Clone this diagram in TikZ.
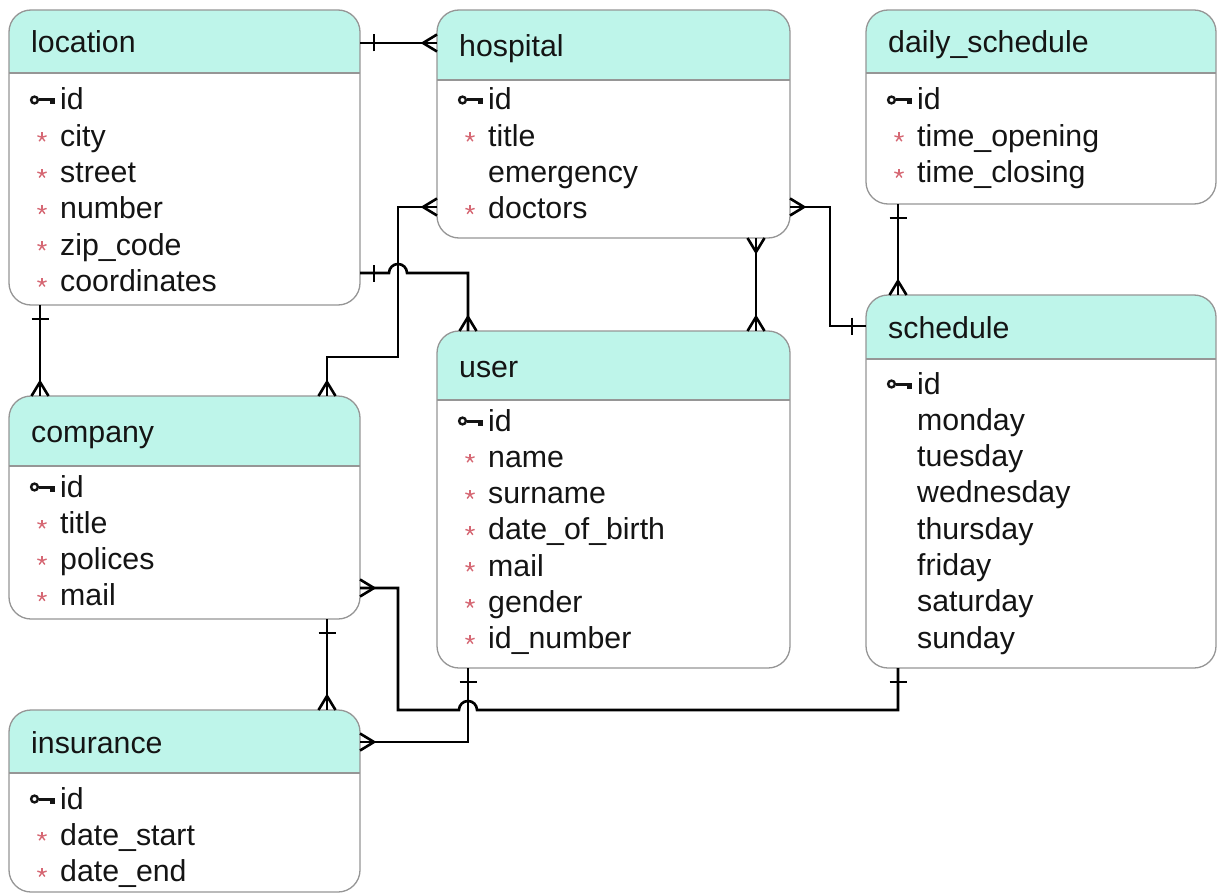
\documentclass[tikz,border=0pt]{standalone}
\usepackage{fontspec}
\setmainfont{Liberation Sans}
\usetikzlibrary{calc}

\definecolor{hdr}{RGB}{190,245,234}
\definecolor{edge}{RGB}{150,150,150}
\definecolor{req}{RGB}{214,104,116}
\definecolor{ink}{RGB}{20,20,20}

\tikzset{
  conn/.style={line width=2.6pt, black},
  crow/.pic={\draw[conn] (14pt,0pt) -- (0pt,8.5pt) (14pt,0pt) -- (0pt,-8.5pt);},
  onebar/.pic={\draw[conn] (14pt,-8.5pt) -- (14pt,8.5pt);},
  tabletitle/.style={anchor=base west, inner sep=0pt, font=\fontsize{30.3}{36}\selectfont, text=ink},
  field/.style={anchor=base west, inner sep=0pt, font=\fontsize{30.3}{36}\selectfont, text=ink},
  tablebox/.style={draw=edge, line width=1.3pt, rounded corners=22pt, inner sep=0pt, outer sep=0pt, anchor=north west},
}

% primary key glyph, ring centred at #1
\newcommand\pkey[1]{%
  \draw[ink, line width=2.4pt] (#1) circle[radius=3.4pt];
  \fill[ink] ($(#1)+(4,-1.5)$) rectangle ($(#1)+(20.5,1.5)$);
  \fill[ink] ($(#1)+(15.5,0)$) rectangle ($(#1)+(20.5,4.5)$);
}
% "required" star centred at #1
\newcommand\reqstar[1]{%
  \foreach \a in {90,162,234,306,18} \draw[req, line width=1.4pt] (#1) -- ++(\a:4.8pt);
}

% table: #1 name, #2 left, #3 top, #4 width, #5 height,
% #6 header bottom, #7 first field baseline, #8 title, #9 fields
\newcommand\erbox[9]{%
  \begin{scope}
    \clip[rounded corners=22pt] (#2,#3) rectangle ++(#4,#5);
    \fill[white] (#2,#3) rectangle ++(#4,#5);
    \fill[hdr] (#2,#3) rectangle (#2+#4,#6);
  \end{scope}
  \draw[edge, line width=1.3pt] (#2,#6) -- (#2+#4,#6);
  \node[tablebox, minimum width=#4pt, minimum height=#5pt] (#1) at (#2,#3) {};
  \node[tabletitle] (#1-title) at (#2+22,{(#3+#6)/2+11.5}) {#8};
  \foreach \kind/\txt [count=\i from 0] in {#9} {
    \pgfmathsetmacro\yb{#7+36.3*\i}
    \node[field] (#1-f\i) at (#2+51,\yb) {\txt};
    \ifx\kind\kkey \pkey{#2+25.5,\yb-10}\fi
    \ifx\kind\kreq \reqstar{#2+33,\yb-9}\fi
  }
}
\def\kkey{k}
\def\kreq{r}

\begin{document}
\begin{tikzpicture}[x=1pt, y=-1pt]
\useasboundingbox (0,0) rectangle (1217,896);
\fill[white] (0,0) rectangle (1217,896);

\erbox{location}{9}{10}{351}{295}{73}{110}{location}
  {k/id, r/city, r/street, r/number, r/zip\_code, r/coordinates}
\erbox{hospital}{437}{10}{353}{228}{80}{110}{hospital}
  {k/id, r/title, n/emergency, r/doctors}
\erbox{daily}{866}{10}{350}{194}{73}{110}{daily\_schedule}
  {k/id, r/time\_opening, r/time\_closing}
\erbox{schedule}{866}{295}{350}{373}{359}{394}{schedule}
  {k/id, n/monday, n/tuesday, n/wednesday, n/thursday, n/friday, n/saturday, n/sunday}
\erbox{user}{437}{331}{353}{337}{400}{431}{user}
  {k/id, r/name, r/surname, r/date\_of\_birth, r/mail, r/gender, r/id\_number}
\erbox{company}{9}{396}{351}{223}{466}{497}{company}
  {k/id, r/title, r/polices, r/mail}
\erbox{insurance}{9}{710}{351}{182}{773}{809}{insurance}
  {k/id, r/date\_start, r/date\_end}

% connector end points on the table borders
\coordinate (locE1) at ($(location.north east)+(0,33)$);
\coordinate (hosW1) at ($(hospital.north west)+(0,33)$);
\coordinate (hosW2) at ($(hospital.north west)+(0,197)$);
\coordinate (comN2) at ($(company.north west)+(318,0)$);
\coordinate (locE3) at ($(location.north east)+(0,263)$);
\coordinate (usrN3) at ($(user.north west)+(31,0)$);
\coordinate (hosS4) at ($(hospital.south west)+(319,0)$);
\coordinate (usrN4) at ($(user.north west)+(319,0)$);
\coordinate (hosE5) at ($(hospital.north east)+(0,197)$);
\coordinate (schW5) at ($(schedule.north west)+(0,31)$);
\coordinate (daiS6) at ($(daily.south west)+(32,0)$);
\coordinate (schN6) at ($(schedule.north west)+(32,0)$);
\coordinate (locS7) at ($(location.south west)+(31,0)$);
\coordinate (comN7) at ($(company.north west)+(31,0)$);
\coordinate (comS8) at ($(company.south west)+(318,0)$);
\coordinate (insN8) at ($(insurance.north west)+(318,0)$);
\coordinate (comE9) at ($(company.north east)+(0,192)$);
\coordinate (schS9) at ($(schedule.south west)+(32,0)$);
\coordinate (usrS10) at ($(user.south west)+(31,0)$);
\coordinate (insE10) at ($(insurance.north east)+(0,32)$);

% location 1 -- n hospital
\draw[conn] (locE1) -- (hosW1);
\pic[rotate=0] at (locE1) {onebar};
\pic[rotate=180] at (hosW1) {crow};

% hospital n -- n company
\draw[conn] (hosW2) -- ++(-39,0) -- ++(0,150) -| (comN2);
\pic[rotate=180] at (hosW2) {crow};
\pic[rotate=90] at (comN2) {crow};

% location 1 -- n user (jumps over the line above)
\draw[conn] (locE3) -- ++(29,0) arc[start angle=180, end angle=0, radius=9pt] -| (usrN3);
\pic[rotate=0] at (locE3) {onebar};
\pic[rotate=90] at (usrN3) {crow};

% hospital n -- n user
\draw[conn] (hosS4) -- (usrN4);
\pic[rotate=270] at (hosS4) {crow};
\pic[rotate=90] at (usrN4) {crow};

% hospital n -- 1 schedule
\draw[conn] (hosE5) -- ++(40,0) |- (schW5);
\pic[rotate=0] at (hosE5) {crow};
\pic[rotate=180] at (schW5) {onebar};

% daily_schedule 1 -- n schedule
\draw[conn] (daiS6) -- (schN6);
\pic[rotate=270] at (daiS6) {onebar};
\pic[rotate=90] at (schN6) {crow};

% location 1 -- n company
\draw[conn] (locS7) -- (comN7);
\pic[rotate=270] at (locS7) {onebar};
\pic[rotate=90] at (comN7) {crow};

% company 1 -- n insurance
\draw[conn] (comS8) -- (insN8);
\pic[rotate=270] at (comS8) {onebar};
\pic[rotate=90] at (insN8) {crow};

% company n -- 1 schedule (jumps over the user line)
\draw[conn] (comE9) -- ++(38,0) -- ++(0,122) -- ++(61,0)
  arc[start angle=180, end angle=0, radius=9pt] -| (schS9);
\pic[rotate=0] at (comE9) {crow};
\pic[rotate=270] at (schS9) {onebar};

% user 1 -- n insurance
\draw[conn] (usrS10) |- (insE10);
\pic[rotate=270] at (usrS10) {onebar};
\pic[rotate=0] at (insE10) {crow};
\end{tikzpicture}
\end{document}
